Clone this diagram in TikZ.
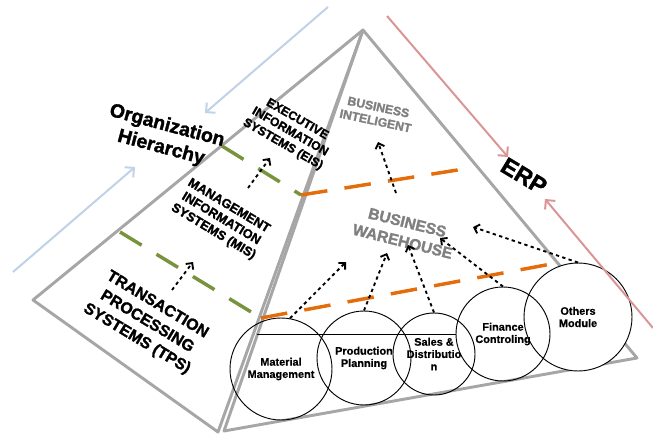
\documentclass[tikz,border=0pt]{standalone}
\usepackage{fontspec}
\setmainfont{Liberation Sans}
\newfontfamily\heavy{Liberation Sans Bold}[FakeBold=1.6]
\newfontfamily\semiheavy{Liberation Sans Bold}[FakeBold=0.6]
\usetikzlibrary{arrows.meta,positioning}

\definecolor{edgegray}{HTML}{A6A6A6}
\definecolor{lvlgreen}{HTML}{77933C}
\definecolor{erporange}{HTML}{E46C0A}
\definecolor{hierblue}{HTML}{BFD2E8}
\definecolor{erpred}{HTML}{D99694}
\definecolor{bigray}{HTML}{7F7F7F}

\begin{document}
\begin{tikzpicture}[x=0.75pt,y=-0.75pt,
    edge/.style={edgegray, line width=2.2pt, line join=round},
    greendash/.style={lvlgreen, line width=2.6pt, dash pattern=on 19pt off 13pt},
    orangedash/.style={erporange, line width=2.6pt, dash pattern=on 20pt off 13pt},
    flow/.style={line width=1.5pt, -{Straight Barb[length=5pt,width=10pt]}},
    dots/.style={line width=1.4pt, dash pattern=on 2.5pt off 2.5pt, -{Straight Barb[length=3.5pt,width=7pt]}},
    level/.style={align=center, inner sep=0pt},
    module/.style={circle, draw, line width=0.7pt, align=center, inner sep=0pt,
        font=\semiheavy\fontsize{8.2}{9.2}\selectfont}]
    \useasboundingbox (0,0) rectangle (653,435);

    % pyramid corners
    \coordinate (apex) at (363,30);
    \coordinate (lft) at (33,300);
    \coordinate (bot) at (218,432);
    \coordinate (bot2) at (224,431);
    \coordinate (rgt) at (637,358);
    \draw[edge] (apex) -- (lft) -- (bot) -- cycle;
    \draw[edge] (apex) -- (bot2) -- (rgt) -- cycle;

    % level borders
    \coordinate (g1a) at (222,146);
    \coordinate (g1b) at (301,195);
    \coordinate (o1b) at (470,168);
    \coordinate (g2a) at (120,232);
    \coordinate (g2b) at (261,318);
    \coordinate (o2b) at (562,262);
    \draw[greendash] (g1a) -- (g1b);
    \draw[orangedash] (g1b) -- (o1b);
    \draw[greendash] (g2a) -- (g2b);
    \draw[orangedash] (g2b) -- (o2b);

    % modules
    \node[module, fill=white, minimum size=81pt] (om) at (578,317) {Others\\Module};
    \node[module, minimum size=76.5pt] (mm) at (281,369) {Material\\Management};
    \node[module, minimum size=70.5pt] (pp) at (364,358) {Production\\Planning};
    \node[module, minimum size=61.5pt] (sd) at (434,354) {Sales \&\\Distributio\\n};
    \node[module, minimum size=70.5pt] (fc) at (503,334) {Finance\\Controling};
    \coordinate (hl) at (257,334);
    \draw[line width=0.7pt] (hl) -- (fc.west);

    % levels of the hierarchy
    \node[level, rotate=-15, font=\heavy\fontsize{14.5}{17}\selectfont] (org) at (164,137) {Organization\\Hierarchy};
    \node[level, rotate=-30, font=\heavy\fontsize{9.2}{10.8}\selectfont] (eis) at (290,132) {EXECUTIVE\\INFORMATION\\SYSTEMS (EIS)};
    \node[level, rotate=-31, font=\heavy\fontsize{9.6}{11.2}\selectfont] (mis) at (221,219) {MANAGEMENT\\INFORMATION\\SYSTEMS (MIS)};
    \node[level, rotate=-31, font=\heavy\fontsize{11.9}{14.9}\selectfont] (tps) at (147,322) {TRANSACTION\\PROCESSING\\SYSTEMS (TPS)};
    \node[level, bigray, rotate=-12, font=\heavy\fontsize{9.2}{10.6}\selectfont] (bi) at (377,114) {BUSINESS\\INTELIGENT};
    \node[level, bigray, rotate=-14, font=\heavy\fontsize{11.7}{14.6}\selectfont] (bw) at (405,232) {BUSINESS\\WAREHOUSE};
    \node[level, rotate=-31, font=\heavy\fontsize{17.7}{20}\selectfont] (erp) at (524,176) {ERP};

    % data flow
    \coordinate (tpsup) at (172,290);
    \coordinate (misin) at (193,262);
    \coordinate (misup) at (248,188);
    \coordinate (eisin) at (270,158);
    \coordinate (bwup) at (396,193);
    \coordinate (biin) at (378,142);
    \draw[dots] (tpsup) -- (misin);
    \draw[dots] (misup) -- (eisin);
    \draw[dots] (bwup) -- (biin);
    \coordinate (bw1) at (346,262);
    \coordinate (bw2) at (387,253);
    \coordinate (bw3) at (408,245);
    \coordinate (bw4) at (440,238);
    \coordinate (bw5) at (473,227);
    \draw[dots] (mm.80) -- (bw1);
    \draw[dots] (pp.north) -- (bw2);
    \draw[dots] (sd.north) -- (bw3);
    \draw[dots] (fc.north) -- (bw4);
    \draw[dots] (om.north) -- (bw5);

    % top-down and bottom-up
    \draw[flow, hierblue] (328,7) -- (205,113);
    \draw[flow, hierblue] (13,272) -- (135,167);
    \draw[flow, erpred] (387,16) -- (508,157);
    \draw[flow, erpred] (653,328) -- (545,199);
\end{tikzpicture}
\end{document}
